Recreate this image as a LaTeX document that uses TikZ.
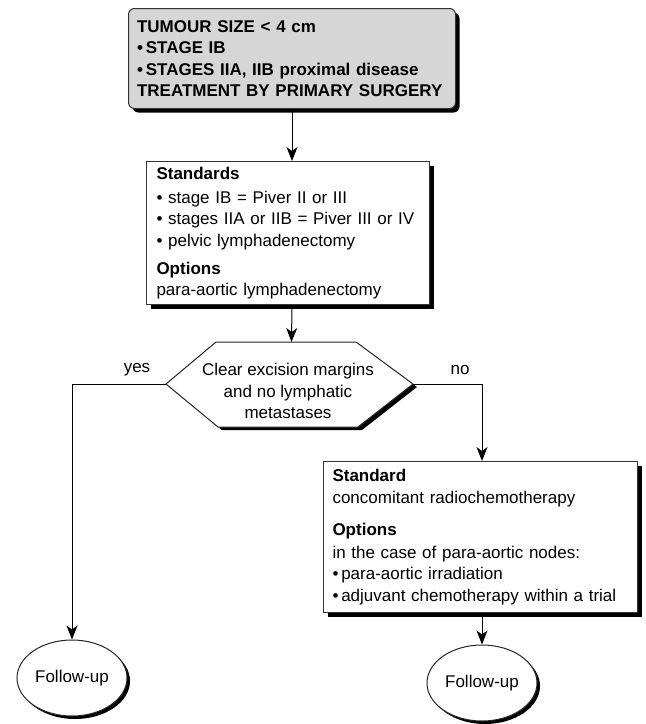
\documentclass[tikz,border=0pt]{standalone}
\usepackage{fontspec}
\setmainfont{Liberation Sans}
\usetikzlibrary{shapes.geometric,shadows,arrows.meta}
\begin{document}
\begin{tikzpicture}[x=1pt,y=-1pt,
  txt/.style={font=\fontsize{17}{21.5}\selectfont},
  shad/.style={drop shadow={shadow xshift=4pt,shadow yshift=-4pt,fill=black,opacity=1}},
  boxbase/.style={draw=black!80, line width=1pt, fill=white, anchor=north west, align=left, txt, shad},
  topbox/.style={boxbase, fill=black!16, rounded corners=6pt, font=\fontsize{17}{21.3}\selectfont\bfseries},
  endnode/.style={ellipse, draw=black!85, line width=1pt, fill=white, txt, minimum width=110pt, minimum height=76pt, inner sep=0pt,
    drop shadow={shadow xshift=3pt,shadow yshift=-3pt,fill=black,opacity=1}},
  arr/.style={line width=1pt, -{Stealth[length=14pt,width=11pt,inset=4pt]}},
  lbl/.style={txt}
]
\useasboundingbox (0,0) rectangle (646,724);

\node[topbox, text width=310pt, inner xsep=8.5pt, minimum height=100pt] (top) at (128,8)
  {TUMOUR SIZE < 4 cm\\
   \textbullet\,STAGE IB\\
   \textbullet\,STAGES IIA, IIB proximal disease\\
   TREATMENT BY PRIMARY SURGERY};

\node[boxbase, text width=263pt, inner xsep=10pt, minimum height=143pt] (mid) at (146,161)
  {\textbf{Standards}\\[2.5pt]
   \textbullet\ stage IB = Piver II or III\\
   \textbullet\ stages IIA or IIB = Piver III or IV\\
   \textbullet\ pelvic lymphadenectomy\\[6.5pt]
   \textbf{Options}\\
   para-aortic lymphadenectomy};

% decision hexagon
\coordinate (dW) at (166,384);
\coordinate (dE) at (413,384);
\coordinate (dN) at (291.5,342);
\fill[black, xshift=4pt, yshift=-3pt] (166,384) -- (216,342) -- (356,342) -- (413,384) -- (358,427) -- (218,427) -- cycle;
\draw[line width=1pt, draw=black!85, fill=white] (166,384) -- (216,342) -- (356,342) -- (413,384) -- (358,427) -- (218,427) -- cycle;
\node[txt, align=center] (dec) at (288,391) {Clear excision margins\\and no lymphatic\\metastases};

\node[lbl] (yes) at (137,370) {yes};
\node[lbl] (no) at (460,370) {no};

\node[boxbase, text width=296pt, inner xsep=9pt, minimum height=151pt] (nobox) at (323,461)
  {\textbf{Standard}\\
   concomitant radiochemotherapy\\[11pt]
   \textbf{Options}\\[1pt]
   in the case of para-aortic nodes:\\
   \textbullet\,para-aortic irradiation\\
   \textbullet\,adjuvant chemotherapy within a trial};

\node[endnode] (fu1) at (72,678) {Follow-up};
\node[endnode] (fu2) at (482,683) {Follow-up};

\draw[arr] (top.south) -- (top.south |- mid.north);
\draw[arr] (mid.south -| top.south) -- (dN);
\draw[arr] (dW) -| (fu1.north);
\draw[arr] (dE) -| (fu2 |- nobox.north);
\draw[arr] (nobox.south -| fu2) -- (fu2.north);
\end{tikzpicture}
\end{document}
